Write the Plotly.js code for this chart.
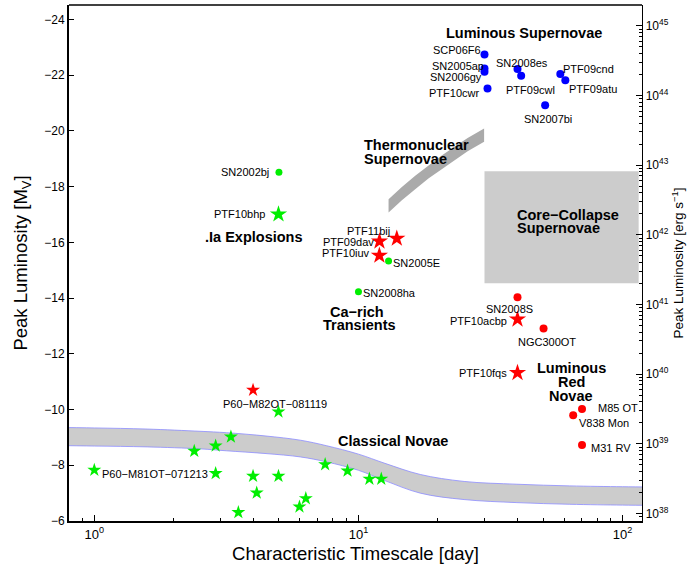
<!DOCTYPE html>
<html>
<head>
<meta charset="utf-8">
<script src="https://cdn.plot.ly/plotly-3.0.1.min.js"></script>
<style>html,body{margin:0;padding:0;background:#fff;}#chart{width:689px;height:567px;}</style>
</head>
<body>
<div id="chart"></div>
<script>
// ---------------- data ----------------
// Luminous supernovae (blue dots)
const blueNames = ['SCP06F6','SN2005ap','SN2006gy','PTF10cwr','SN2008es','PTF09cwl','PTF09cnd','PTF09atu','SN2007bi'];
const blueT = [30.0, 30.0, 30.0, 30.8, 40.0, 41.3, 58.1, 60.7, 50.9];
const blueM = [-22.74, -22.24, -22.12, -21.52, -22.22, -21.98, -22.04, -21.82, -20.92];

// Green dots
const greenDotNames = ['SN2002bj','SN2005E','SN2008ha'];
const greenDotT = [5.0, 13.0, 10.0];
const greenDotM = [-18.52, -15.33, -14.23];

// Green big star
const greenBigNames = ['PTF10bhp'];
const greenBigT = [4.98];
const greenBigM = [-17.01];

// Green small stars (novae etc.)
const greenStarNames = ['P60\u2212M81OT\u2212071213','','','','','','','','','','','','','','',''];
const greenStarT = [1.0, 2.39, 2.88, 3.29, 2.88, 3.99, 4.12, 3.51, 4.98, 4.98, 5.98, 6.32, 7.48, 9.09, 11.0, 12.2];
const greenStarM = [-7.83, -8.51, -8.70, -9.02, -7.71, -7.61, -7.01, -6.31, -7.61, -9.92, -6.51, -6.81, -8.03, -7.80, -7.51, -7.51];

// Red big stars
const redBigNames = ['PTF11bij','PTF09dav','PTF10iuv','PTF10acbp','PTF10fqs'];
const redBigT = [13.97, 12.01, 12.0, 40.0, 40.0];
const redBigM = [-16.14, -16.04, -15.53, -13.24, -11.32];

// Red small star
const redStarNames = ['P60\u2212M82OT\u2212081119'];
const redStarT = [3.99];
const redStarM = [-10.70];

// Red dots
const redDotNames = ['SN2008S','NGC300OT','M85 OT','V838 Mon','M31 RV'];
const redDotT = [40.0, 50.2, 70.2, 65.0, 70.2];
const redDotM = [-14.03, -12.91, -10.02, -9.80, -8.73];

// Regions
const novaeT = [0.7, 1.0, 1.585, 2.512, 3.162, 4.467, 6.026, 7.586, 10.0, 12.59, 17.14, 25.12, 39.81, 63.1, 100, 130];
const novaeUpper = [-9.36, -9.34, -9.30, -9.22, -9.17, -9.05, -8.90, -8.70, -8.40, -8.07, -7.67, -7.42, -7.32, -7.26, -7.23, -7.22];
const novaeLower = [-8.71, -8.69, -8.66, -8.59, -8.52, -8.42, -8.30, -8.12, -7.82, -7.45, -7.00, -6.77, -6.66, -6.60, -6.57, -6.56];

const thermoT = [13.0, 14.6, 16.4, 18.4, 20.6, 23.1, 25.9, 29.9];
const thermoCenter = [-17.31, -17.75, -18.15, -18.53, -18.87, -19.19, -19.51, -19.85];
const thermoHalf = 0.24;

const ccT = [30, 115];
const ccM = [-18.55, -14.53];

// Axis ticks
const xTickVals = [1, 10, 100];
const xTickText = ['10<sup>0</sup>', '10<sup>1</sup>', '10<sup>2</sup>'];
const yTickVals = [-24, -22, -20, -18, -16, -14, -12, -10, -8, -6];
const lumExps = [38, 39, 40, 41, 42, 43, 44, 45];

// ---------------- label offsets (xanchor, dx px, dy px down) ----------------
const blueLab = [['right',-2,-4.3],['right',0.7,-3],['right',-1,5.6],['right',-7.3,4.4],['center',4.2,-5.7],['center',9.2,14.3],['left',1.3,-4.7],['left',2.3,8.7],['center',2.5,14]];
const greenDotLab = [['right',-9.4,0.3],['left',3.4,2.3],['left',4,1]];
const greenBigLab = [['right',-12.3,0]];
const greenStarLab = [['left',6.7,4.3]];
const redBigLab = [['right',-5.7,-7.6],['right',-4.3,1],['right',-8.3,-2],['right',-9,1.4],['right',-9.3,0.6]];
const redStarLab = [['center',21.5,14.3]];
const redDotLab = [['center',-8.4,12],['center',3.6,13.4],['left',15,-0.7],['left',4.7,8.3],['left',7.6,2.7]];

const FONT = 'Liberation Sans, Arial, Helvetica, sans-serif';
const annotations = [];
function addLabels(names, T, M, specs) {
  names.forEach((n, i) => {
    if (!n || !specs[i]) return;
    const s = specs[i];
    annotations.push({
      x: Math.log10(T[i]), y: M[i], xref: 'x', yref: 'y', text: n, showarrow: false,
      xanchor: s[0], yanchor: 'middle', xshift: s[1], yshift: -s[2], borderpad: 0,
      font: {family: FONT, size: 11, color: '#000'}
    });
  });
}
addLabels(blueNames, blueT, blueM, blueLab);
addLabels(greenDotNames, greenDotT, greenDotM, greenDotLab);
addLabels(greenBigNames, greenBigT, greenBigM, greenBigLab);
addLabels(greenStarNames, greenStarT, greenStarM, greenStarLab);
addLabels(redBigNames, redBigT, redBigM, redBigLab);
addLabels(redStarNames, redStarT, redStarM, redStarLab);
addLabels(redDotNames, redDotT, redDotM, redDotLab);

// group labels: [text, T, M, xanchor]
const groupLabels = [
  ['Luminous Supernovae', 42.2, -23.50, 'center'],
  ['Thermonuclear', 10.44, -19.49, 'left'],
  ['Supernovae', 10.44, -18.98, 'left'],
  ['Core\u2212Collapse', 39.6, -16.98, 'left'],
  ['Supernovae', 39.6, -16.50, 'left'],
  ['.Ia Explosions', 4.01, -16.19, 'center'],
  ['Ca\u2212rich', 9.89, -13.49, 'center'],
  ['Transients', 10.1, -13.03, 'center'],
  ['Luminous', 63.9, -11.48, 'center'],
  ['Red', 63.9, -10.98, 'center'],
  ['Novae', 63.9, -10.49, 'center'],
  ['Classical Novae', 8.3, -8.87, 'left']
];
groupLabels.forEach(g => annotations.push({
  x: Math.log10(g[1]), y: g[2], xref: 'x', yref: 'y', text: '<b>' + g[0] + '</b>', showarrow: false,
  xanchor: g[3], yanchor: 'middle', borderpad: 0,
  font: {family: FONT, size: 14.5, color: '#000'}
}));

// ---------------- traces ----------------
const thermoX = thermoT.concat(thermoT.slice().reverse());
const thermoY = thermoCenter.map(v => v - thermoHalf).concat(thermoCenter.map(v => v + thermoHalf).reverse());

const traces = [
  {x: [ccT[0], ccT[1], ccT[1], ccT[0], ccT[0]], y: [ccM[0], ccM[0], ccM[1], ccM[1], ccM[0]],
   mode: 'lines', fill: 'toself', fillcolor: '#cccccc', line: {width: 0, color: 'rgba(0,0,0,0)'}, hoverinfo: 'skip'},
  {x: thermoX, y: thermoY, mode: 'lines', fill: 'toself', fillcolor: '#aaaaaa',
   line: {width: 0, color: 'rgba(0,0,0,0)'}, hoverinfo: 'skip'},
  {x: novaeT, y: novaeLower, mode: 'lines', line: {color: '#8c8cff', width: 0.8, shape: 'spline'}, hoverinfo: 'skip'},
  {x: novaeT, y: novaeUpper, mode: 'lines', fill: 'tonexty', fillcolor: '#cccccc',
   line: {color: '#8c8cff', width: 0.8, shape: 'spline'}, hoverinfo: 'skip'},
  {x: blueT, y: blueM, mode: 'markers', marker: {color: '#0000ff', size: 8, symbol: 'circle'}},
  {x: greenDotT, y: greenDotM, mode: 'markers', marker: {color: '#00ee00', size: 7, symbol: 'circle'}},
  {x: greenStarT, y: greenStarM, mode: 'markers', marker: {color: '#00ee00', size: 10.5, symbol: 'star'}},
  {x: greenBigT, y: greenBigM, mode: 'markers', marker: {color: '#00ee00', size: 13, symbol: 'star'}},
  {x: redStarT, y: redStarM, mode: 'markers', marker: {color: '#ff0000', size: 10.5, symbol: 'star'}},
  {x: redBigT, y: redBigM, mode: 'markers', marker: {color: '#ff0000', size: 13, symbol: 'star'}},
  {x: redDotT, y: redDotM, mode: 'markers', marker: {color: '#ff0000', size: 8, symbol: 'circle'}},
  {x: [], y: [], yaxis: 'y2', mode: 'markers', hoverinfo: 'skip'}
];

// minor ticks
const xMinor = [0.9];
[1, 10].forEach(d => { for (let k = 2; k <= 9; k++) xMinor.push(k * d); });
const lMinor = [8e37, 9e37];
for (let e = 38; e <= 44; e++) { for (let k = 2; k <= 9; k++) lMinor.push(k * Math.pow(10, e)); }

const layout = {
  width: 689, height: 567,
  margin: {l: 69, r: 47, t: 5, b: 46, pad: 0},
  paper_bgcolor: '#fff', plot_bgcolor: '#fff',
  showlegend: false,
  font: {family: FONT, size: 12, color: '#000'},
  xaxis: {
    type: 'log', range: [-0.0958, 2.0734], tickmode: 'array', tickvals: xTickVals, ticktext: xTickText,
    ticks: 'inside', ticklen: 6, tickwidth: 1, tickcolor: '#000',
    showline: true, linewidth: 2, linecolor: '#000', showgrid: false, zeroline: false,
    minor: {tickmode: 'array', tickvals: xMinor, ticks: 'inside', ticklen: 3.5, tickwidth: 1, tickcolor: '#000', showgrid: false},
    tickfont: {family: FONT, size: 13},
    title: {text: 'Characteristic Timescale [day]', font: {family: FONT, size: 18.5}, standoff: 6}
  },
  yaxis: {
    range: [-6, -24.52], tickmode: 'array', tickvals: yTickVals,
    ticks: 'inside', ticklen: 5, tickwidth: 1, tickcolor: '#000',
    showline: true, linewidth: 2, linecolor: '#000', showgrid: false, zeroline: false,
    tickfont: {family: FONT, size: 12},
    title: {text: 'Peak Luminosity [M<sub>V</sub>]', font: {family: FONT, size: 18.5}, standoff: 12}
  },
  yaxis2: {
    overlaying: 'y', side: 'right', type: 'log', range: [37.892, 45.3],
    tickmode: 'array', tickvals: lumExps.map(e => Math.pow(10, e)), ticktext: lumExps.map(e => '10<sup>' + e + '</sup>'),
    ticks: 'inside', ticklen: 6, tickwidth: 1, tickcolor: '#000',
    showline: true, linewidth: 1.3, linecolor: '#000', showgrid: false, zeroline: false,
    minor: {tickmode: 'array', tickvals: lMinor, ticks: 'inside', ticklen: 3, tickwidth: 1, tickcolor: '#000', showgrid: false},
    tickfont: {family: FONT, size: 12},
    title: {text: 'Peak Luminosity [erg s<sup>\u22121</sup>]', font: {family: FONT, size: 13.5}, standoff: 4}
  },
  shapes: [{type: 'line', xref: 'paper', yref: 'paper', x0: 0, x1: 1, y0: 1, y1: 1, line: {color: '#000', width: 1.3}}],
  annotations: annotations
};

Plotly.newPlot('chart', traces, layout, {staticPlot: true, displayModeBar: false});
</script>
</body>
</html>
